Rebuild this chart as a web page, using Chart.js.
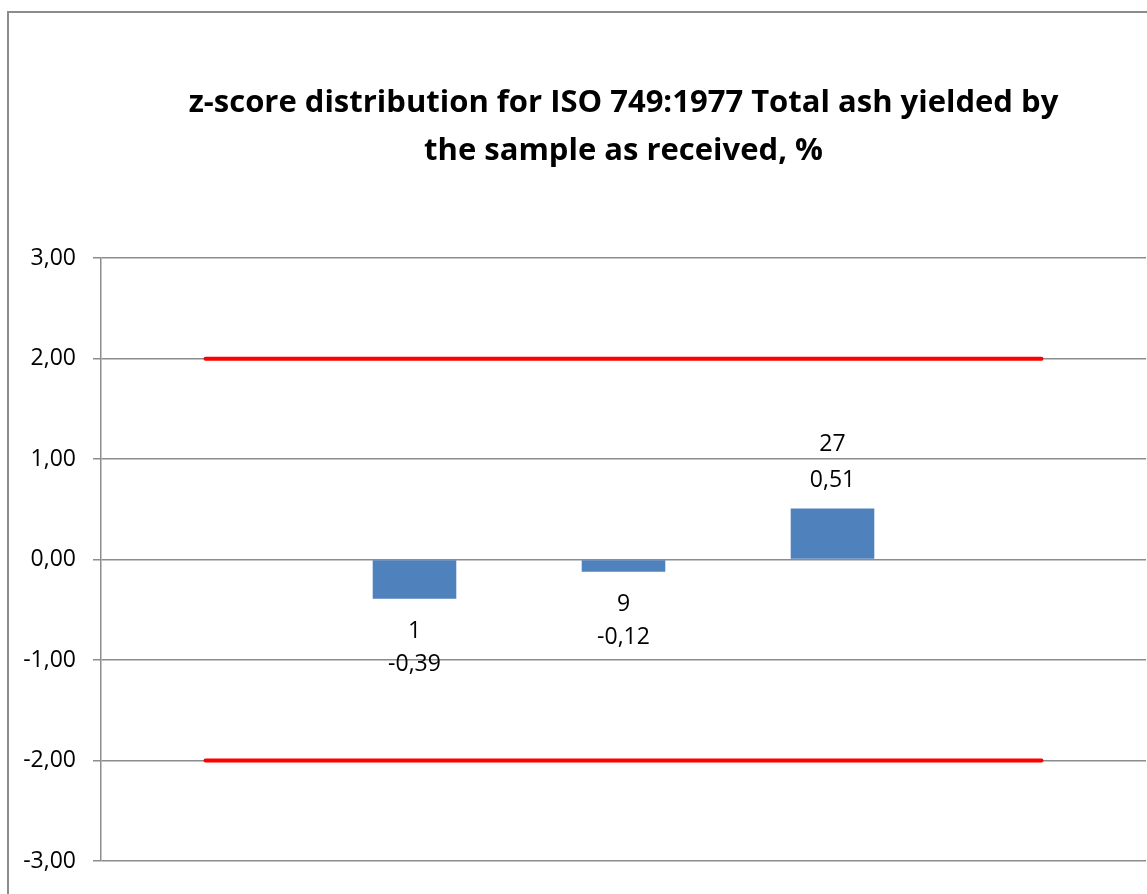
<!DOCTYPE html>
<html>
<head>
<meta charset="utf-8">
<script src="https://cdn.jsdelivr.net/npm/chart.js@4.4.0/dist/chart.umd.min.js"></script>
<style>
  html, body { margin: 0; padding: 0; background: #fff; overflow: hidden; }
  #wrap { position: relative; width: 1147px; height: 894px; }
  #frame { position: absolute; left: 7px; top: 11px; width: 1300px; height: 1000px; border: 2px solid #8c8c8c; }
  #chart { position: absolute; left: 0; top: 0; }
</style>
</head>
<body>
<div id="wrap">
  <div id="frame"></div>
  <canvas id="chart" width="1147" height="894"></canvas>
</div>
<script>
// categorias: só as do meio têm barra
const categories = ["", "1", "9", "27", ""];
const zScores = [null, -0.39, -0.12, 0.51, null];
const upperLimit = [2, 2, 2, 2, 2];
const lowerLimit = [-2, -2, -2, -2, -2];
const titleLines = ["z-score distribution for ISO 749:1977 Total ash yielded by", "the sample as received, %"];

const FONT = "'Open Sans', sans-serif";
const fmt = (v) => v.toFixed(2).replace(".", ",");

// rótulo de duas linhas (código + valor) em cada barra
const barLabels = {
  id: "barLabels",
  afterDatasetsDraw(chart) {
    const ctx = chart.ctx;
    const meta = chart.getDatasetMeta(0);
    ctx.save();
    ctx.font = "23px " + FONT;
    ctx.fillStyle = "#000";
    ctx.textAlign = "center";
    ctx.textBaseline = "middle";
    meta.data.forEach((bar, i) => {
      const v = zScores[i];
      if (v === null) return;
      if (v < 0) {
        ctx.fillText(categories[i], bar.x, bar.y + 33);
        ctx.fillText(fmt(v), bar.x, bar.y + 66);
      } else {
        ctx.fillText(categories[i], bar.x, bar.y - 64);
        ctx.fillText(fmt(v), bar.x, bar.y - 28);
      }
    });
    ctx.restore();
  }
};

new Chart(document.getElementById("chart"), {
  data: {
    labels: categories,
    datasets: [
      {
        type: "bar",
        data: zScores,
        backgroundColor: "#4f81bd",
        categoryPercentage: 1,
        barPercentage: 0.4,
        order: 2
      },
      {
        type: "line",
        data: upperLimit,
        borderColor: "#ff0000",
        borderWidth: 4,
        borderCapStyle: "round",
        pointRadius: 0,
        order: 1
      },
      {
        type: "line",
        data: lowerLimit,
        borderColor: "#ff0000",
        borderWidth: 4,
        borderCapStyle: "round",
        pointRadius: 0,
        order: 1
      }
    ]
  },
  options: {
    responsive: false,
    animation: false,
    layout: { padding: { left: 0, right: 1, top: 0, bottom: 33 } },
    plugins: {
      legend: { display: false },
      tooltip: { enabled: false },
      title: {
        display: true,
        fullSize: false,
        text: titleLines,
        color: "#000",
        font: { family: FONT, size: 31, weight: "bold", lineHeight: 1.52 },
        padding: { top: 80, bottom: 84 }
      }
    },
    scales: {
      x: {
        display: false
      },
      y: {
        min: -3,
        max: 3,
        afterFit: (scale) => { scale.width = 101; },
        ticks: {
          stepSize: 1,
          padding: 17,
          color: "#000",
          font: { family: FONT, size: 23 },
          callback: (v) => fmt(v)
        },
        grid: { color: "#8c8c8c", lineWidth: 1.5, tickLength: 8 },
        border: { color: "#8c8c8c", width: 1.5 }
      }
    }
  },
  plugins: [barLabels]
});
</script>
</body>
</html>
